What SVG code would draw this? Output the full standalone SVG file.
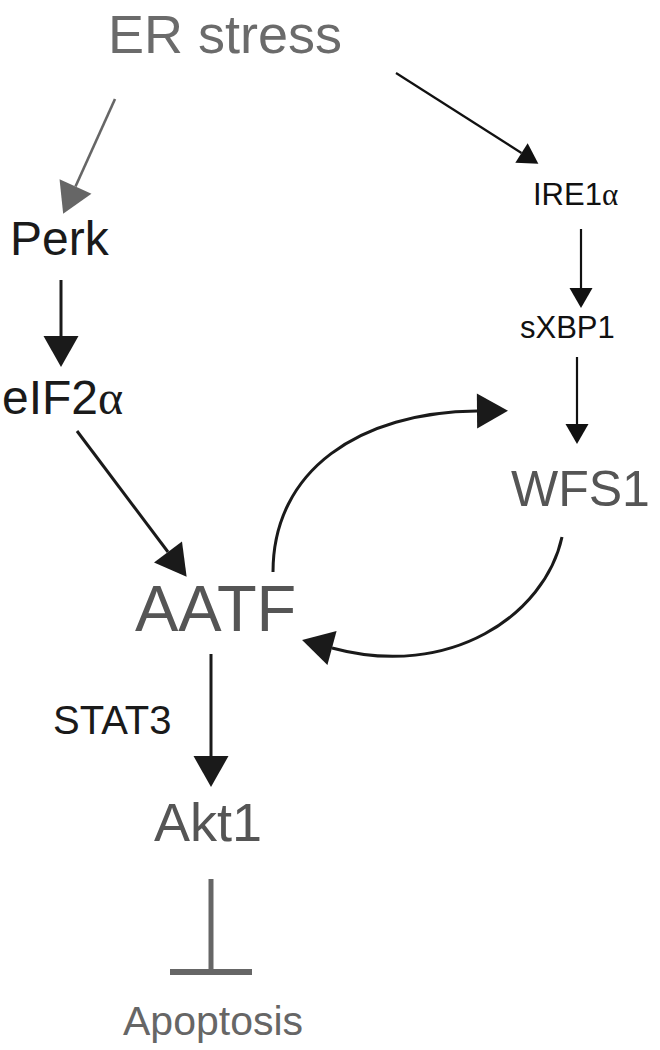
<svg xmlns="http://www.w3.org/2000/svg" width="660" height="1050" viewBox="0 0 660 1050">
<style>
text{font-family:"Liberation Sans",Arial,sans-serif}
.a{font-family:"Liberation Serif","Times New Roman",serif}
.dk{fill:#1a1a1a}
.gr{fill:#555555}
.lg{fill:#6b6b6b}
.ln{fill:none;stroke:#1a1a1a;stroke-width:3}
.thin{fill:none;stroke:#111;stroke-width:2.2}
</style>
<defs>
<marker id="big" markerUnits="userSpaceOnUse" markerWidth="40" markerHeight="40" refX="0" refY="0" orient="auto" overflow="visible"><path d="M0,-17.5 L31,0 L0,17.5 z" fill="#1a1a1a"/></marker>
<marker id="bigg" markerUnits="userSpaceOnUse" markerWidth="40" markerHeight="40" refX="0" refY="0" orient="auto" overflow="visible"><path d="M0,-17.5 L30,0 L0,17.5 z" fill="#666"/></marker>
<marker id="sm" markerUnits="userSpaceOnUse" markerWidth="30" markerHeight="30" refX="0" refY="0" orient="auto" overflow="visible"><path d="M0,-11.5 L20,0 L0,11.5 z" fill="#111"/></marker>
</defs>
<g id="connectors">
<line x1="115" y1="99" x2="75.5" y2="186.5" stroke="#666" stroke-width="2.6" marker-end="url(#bigg)"/>
<line class="thin" x1="396" y1="73" x2="521.5" y2="153" marker-end="url(#sm)"/>
<line class="ln" x1="61" y1="280" x2="61" y2="336" marker-end="url(#big)"/>
<line class="thin" x1="581" y1="229" x2="581" y2="288" marker-end="url(#sm)"/>
<line class="thin" x1="577" y1="357" x2="577" y2="424" marker-end="url(#sm)"/>
<line class="ln" x1="77" y1="431" x2="168" y2="552" marker-end="url(#big)"/>
<path class="ln" stroke-width="3.5" d="M273,572 C273,470 360,412 477,411" marker-end="url(#big)"/>
<path class="ln" stroke-width="3.5" d="M562,537 C545,615 450,680 332,648" marker-end="url(#big)"/>
<line class="ln" x1="211" y1="654" x2="211" y2="756" marker-end="url(#big)"/>
<line x1="211" y1="879" x2="211" y2="970" stroke="#666" stroke-width="5"/>
<rect x="170" y="969" width="82" height="6" fill="#666"/>
</g>
<g id="er-stress"><text x="108" y="53" font-size="54" class="lg">ER stress</text></g>
<g id="perk"><text x="10" y="255" font-size="48" class="dk">Perk</text></g>
<g id="ire1a"><text x="533" y="205" font-size="31" fill="#111">IRE1<tspan class="a">α</tspan></text></g>
<g id="sxbp1"><text x="520" y="338" font-size="31" fill="#111">sXBP1</text></g>
<g id="eif2a"><text x="2" y="414" font-size="48" class="dk">eIF2<tspan class="a">α</tspan></text></g>
<g id="wfs1"><text x="511" y="506" font-size="50" class="gr">WFS1</text></g>
<g id="aatf"><text x="135" y="631" font-size="65" class="gr">AATF</text></g>
<g id="stat3"><text x="53" y="734" font-size="40" class="dk">STAT3</text></g>
<g id="akt1"><text x="154" y="841" font-size="54" class="gr">Akt1</text></g>
<g id="apoptosis"><text x="123" y="1035" font-size="41" fill="#666">Apoptosis</text></g>
</svg>
